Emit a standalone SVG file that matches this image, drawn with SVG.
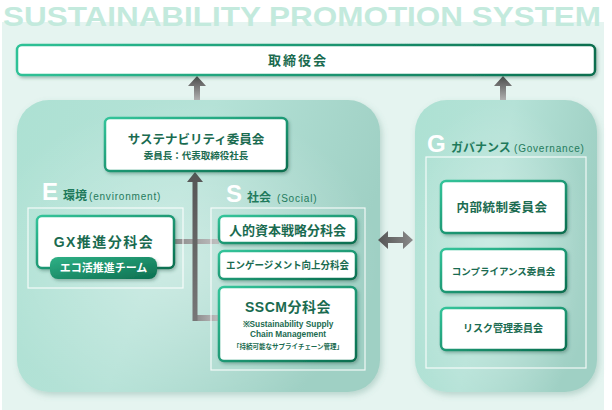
<svg xmlns="http://www.w3.org/2000/svg" width="612" height="410" viewBox="0 0 612 410">
<defs>
<linearGradient id="bd" x1="0" y1="0" x2="1" y2="1">
<stop offset="0" stop-color="#33c49a"/><stop offset="1" stop-color="#0a6e4f"/>
</linearGradient>
<linearGradient id="bdw" x1="0" y1="0" x2="1" y2="0">
<stop offset="0" stop-color="#2fc297"/><stop offset="1" stop-color="#0a6e4f"/>
</linearGradient>
<linearGradient id="panel" x1="0" y1="0" x2="1" y2="0.3">
<stop offset="0" stop-color="#ade1d3"/><stop offset="0.5" stop-color="#b5e2d7"/><stop offset="1" stop-color="#9fd0c4"/>
</linearGradient>
<radialGradient id="glow" cx="0.45" cy="0.55" r="0.55">
<stop offset="0" stop-color="#ffffff" stop-opacity="0.35"/><stop offset="1" stop-color="#ffffff" stop-opacity="0"/>
</radialGradient>
<linearGradient id="badge" x1="0" y1="0" x2="1" y2="1">
<stop offset="0" stop-color="#2fb186"/><stop offset="1" stop-color="#0c6f50"/>
</linearGradient>
<linearGradient id="arr" x1="0" y1="0" x2="0" y2="1">
<stop offset="0" stop-color="#4a4a4a"/><stop offset="1" stop-color="#b0b0b0"/>
</linearGradient>
<linearGradient id="arrv" x1="0" y1="0" x2="0" y2="1">
<stop offset="0" stop-color="#555"/><stop offset="1" stop-color="#777"/>
</linearGradient>
<linearGradient id="hline" x1="0" y1="0" x2="1" y2="0">
<stop offset="0" stop-color="#8a8a8a"/><stop offset="1" stop-color="#c0c0c0"/>
</linearGradient>
<linearGradient id="dbl" x1="0" y1="0" x2="1" y2="0">
<stop offset="0" stop-color="#555"/><stop offset="1" stop-color="#8a8a8a"/>
</linearGradient>
<filter id="sh" x="-10%" y="-20%" width="130%" height="150%">
<feDropShadow dx="1.5" dy="2" stdDeviation="1.5" flood-color="#2c5a4c" flood-opacity="0.35"/>
</filter>
<filter id="psh" x="-10%" y="-10%" width="130%" height="130%">
<feDropShadow dx="2" dy="3" stdDeviation="3" flood-color="#4f8a7a" flood-opacity="0.3"/>
</filter>
</defs>
<style>
.jp{font-family:'Liberation Sans','Noto Sans CJK JP',sans-serif;font-weight:bold;fill:#1a6b50;text-anchor:middle}
.box{fill:#fff;stroke:url(#bd);stroke-width:2.5;filter:url(#sh)}
.frame{fill:none;stroke:#ffffff;stroke-opacity:0.85;stroke-width:1.2}
.big{font-family:'Liberation Sans',Arial,sans-serif;font-weight:bold;fill:#ffffff;font-size:24px}
.hd{font-family:'Liberation Sans','Noto Sans CJK JP',sans-serif;font-weight:bold;fill:#1f7a5c;font-size:12px}
.en{font-family:'Liberation Sans',Arial,sans-serif;fill:#1f7a5c;font-size:10px;letter-spacing:0.8px}
.lat{font-family:'Liberation Sans',Arial,sans-serif;fill:#1a6b50;text-anchor:middle}
</style>
<rect x="0" y="0" width="612" height="410" fill="#ffffff"/>
<rect x="2" y="22" width="602" height="388" fill="#e5f4f0"/>
<text x="302" y="25.5" font-family="'Liberation Sans',Arial,sans-serif" font-weight="bold" font-size="28" fill="#c3eadd" text-anchor="middle" textLength="598" lengthAdjust="spacingAndGlyphs">SUSTAINABILITY PROMOTION SYSTEM</text>

<g id="panel-left">
<rect x="17" y="100" width="363" height="292" rx="32" fill="url(#panel)" filter="url(#psh)"/>
<rect x="17" y="100" width="363" height="292" rx="32" fill="url(#glow)"/>
</g>
<g id="panel-right">
<rect x="415" y="100" width="182" height="292" rx="32" fill="url(#panel)" filter="url(#psh)"/>
<rect x="415" y="100" width="182" height="292" rx="32" fill="url(#glow)"/>
</g>

<g id="connectors">
<path d="M197 76 L206 86 L200 86 L200 100 L194 100 L194 86 L188 86 Z" fill="url(#arr)"/>
<path d="M503 76 L512 86 L506 86 L506 100 L500 100 L500 86 L494 86 Z" fill="url(#arr)"/>
<rect x="174" y="239" width="45" height="5" fill="url(#hline)"/>
<path d="M195 315 L195 321 L219 321 L219 315 Z" fill="url(#hline)"/>
<path d="M195 172 L203 182 L197.5 182 L197.5 321 L192.5 321 L192.5 182 L187 182 Z" fill="url(#arrv)"/>
<path d="M378 240 L388 231 L388 237 L403 237 L403 231 L413 240 L403 249 L403 243 L388 243 L388 249 Z" fill="url(#dbl)"/>
</g>

<g id="board">
<rect x="17" y="45" width="578" height="30" rx="5" fill="#fff" stroke="url(#bdw)" stroke-width="2.5" filter="url(#sh)"/>
<text class="jp" x="298" y="65" font-size="13" letter-spacing="2">取締役会</text>
</g>

<g id="sustainability-committee">
<rect class="box" x="105" y="118" width="182" height="53" rx="5"/>
<text class="jp" x="196" y="144" font-size="12.5">サステナビリティ委員会</text>
<text class="jp" x="196" y="159" font-size="9.5">委員長：代表取締役社長</text>
</g>

<g id="env-heading">
<text class="big" x="42" y="200">E</text>
<text class="hd" x="63" y="200">環境</text>
<text class="en" x="89" y="200">(environment)</text>
<rect class="frame" x="28" y="208" width="155" height="80"/>
</g>
<g id="gx">
<rect class="box" x="37" y="216" width="137" height="52" rx="5"/>
<text class="jp" x="104" y="247" font-size="14" letter-spacing="1.5">GX推進分科会</text>
</g>
<g id="eco-team">
<rect x="50" y="257" width="107" height="22" rx="8" fill="url(#badge)" filter="url(#sh)"/>
<text class="jp" x="103.5" y="272" font-size="11" style="fill:#ffffff">エコ活推進チーム</text>
</g>

<g id="social-heading">
<text class="big" x="226" y="202">S</text>
<text class="hd" x="247" y="202">社会</text>
<text class="en" x="277" y="202">(Social)</text>
<rect class="frame" x="211" y="208" width="154" height="162"/>
</g>
<g id="human-capital">
<rect class="box" x="219" y="216" width="137" height="27" rx="5"/>
<text class="jp" x="287.5" y="234.5" font-size="13">人的資本戦略分科会</text>
</g>
<g id="engagement">
<rect class="box" x="219" y="251" width="137" height="28" rx="5"/>
<text class="jp" x="287.5" y="269" font-size="10" textLength="123" lengthAdjust="spacingAndGlyphs">エンゲージメント向上分科会</text>
</g>
<g id="sscm">
<rect class="box" x="219" y="287" width="137" height="74" rx="5"/>
<text class="jp" x="288" y="312" font-size="14" letter-spacing="0.5">SSCM分科会</text>
<text class="lat" x="288" y="327" font-size="8.3" font-weight="bold">※Sustainability Supply</text>
<text class="lat" x="288" y="337" font-size="8.3" font-weight="bold">Chain Management</text>
<text class="jp" x="288" y="349" font-size="7" textLength="110" lengthAdjust="spacingAndGlyphs">「持続可能なサプライチェーン管理」</text>
</g>

<g id="gov-heading">
<text class="big" x="427" y="152">G</text>
<text class="hd" x="451" y="152">ガバナンス</text>
<text class="en" x="514" y="152">(Governance)</text>
<rect class="frame" x="426" y="157" width="160" height="211"/>
</g>
<g id="internal-control">
<rect class="box" x="441" y="181" width="125" height="52" rx="5"/>
<text class="jp" x="502" y="212" font-size="12.5" letter-spacing="0.5">内部統制委員会</text>
</g>
<g id="compliance">
<rect class="box" x="441" y="249" width="125" height="43" rx="5"/>
<text class="jp" x="503.5" y="275" font-size="9.5">コンプライアンス委員会</text>
</g>
<g id="risk">
<rect class="box" x="441" y="308" width="125" height="42" rx="5"/>
<text class="jp" x="503" y="332" font-size="10">リスク管理委員会</text>
</g>
</svg>
